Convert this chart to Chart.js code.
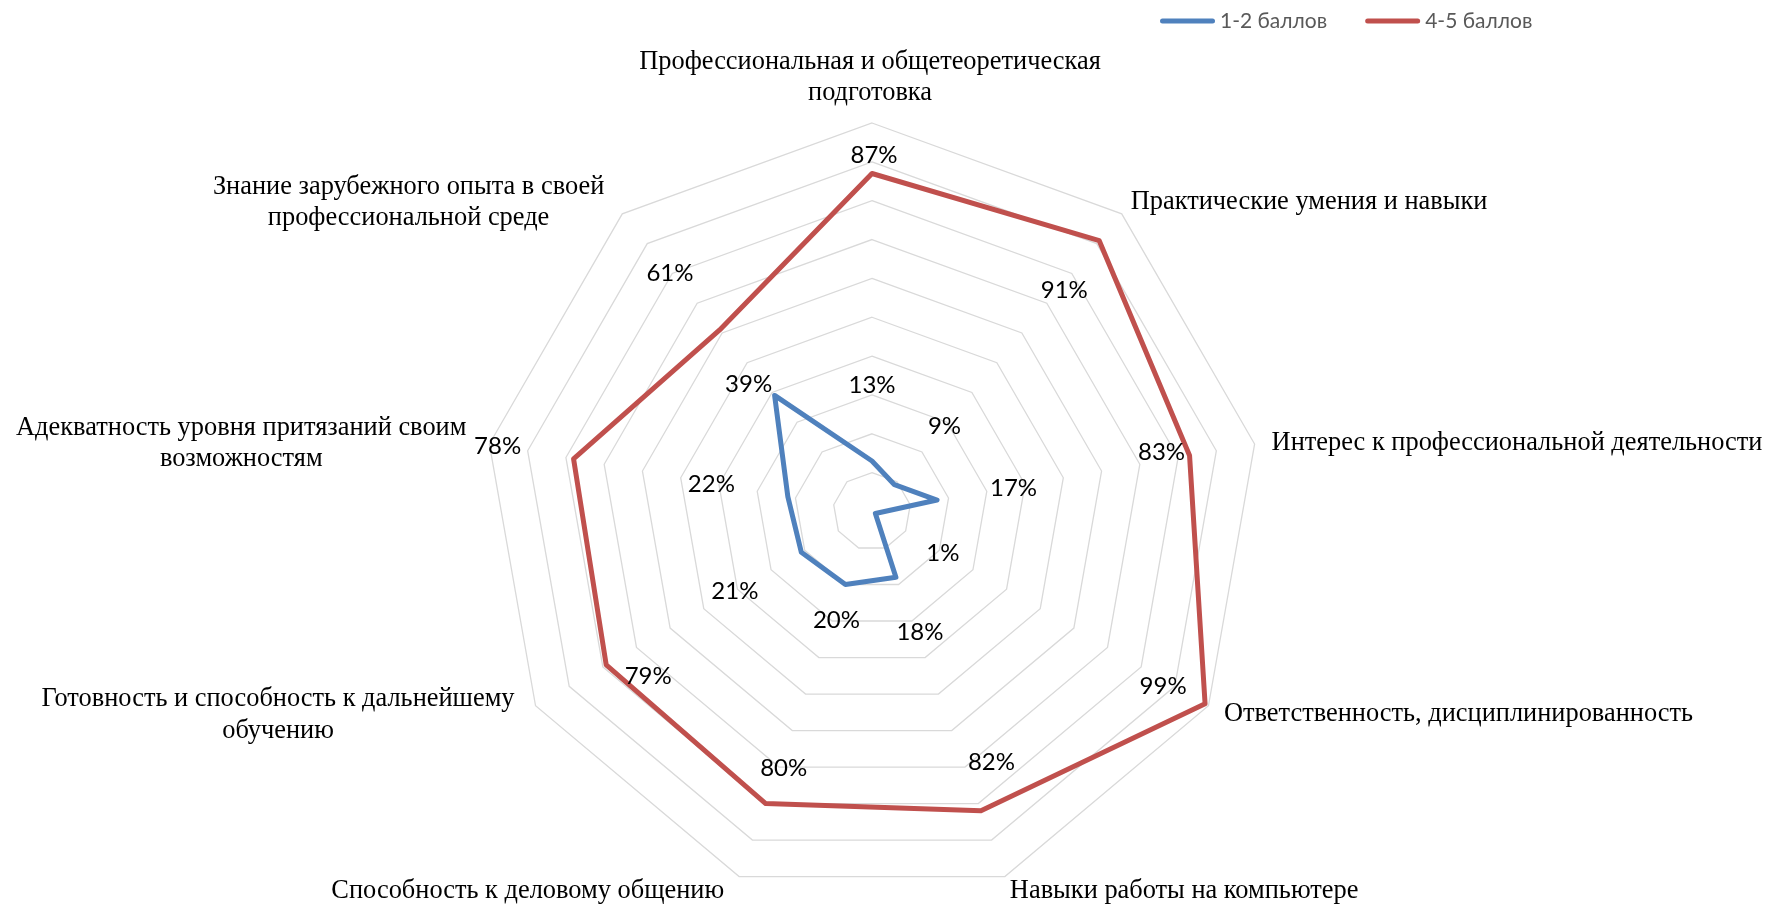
<!DOCTYPE html>
<html><head><meta charset="utf-8">
<script src="https://cdn.jsdelivr.net/npm/chart.js@4.4.1/dist/chart.umd.min.js"></script>
<style>html,body{margin:0;padding:0;background:#fff;overflow:hidden}#wrap{width:1769px;height:906px;position:relative}</style>
</head><body><div id="wrap"><canvas id="c" width="1769" height="906"></canvas></div>
<script>
// ---- data ----
const categories = [
  ['Профессиональная и общетеоретическая', 'подготовка'],
  ['Практические умения и навыки'],
  ['Интерес к профессиональной деятельности'],
  ['Ответственность, дисциплинированность'],
  ['Навыки работы на компьютере'],
  ['Способность к деловому общению'],
  ['Готовность и способность к дальнейшему', 'обучению'],
  ['Адекватность уровня притязаний своим', 'возможностям'],
  ['Знание зарубежного опыта в своей', 'профессиональной среде']
];
const seriesNames = ['1-2 баллов', '4-5 баллов'];
const lowScores = [13, 9, 17, 1, 18, 20, 21, 22, 39];
const highScores = [87, 91, 83, 99, 82, 80, 79, 78, 61];
const tickMin = 0, tickMax = 100, tickStep = 10;

// ---- styling / label placement ----
const colors = ['#4F81BD', '#C0504D'];
const catFont = '26.4px "Liberation Serif"';
const catLineHeight = 31.5;
const pointLabelPlacement = [
  {align: 'center', dx: -2, dy: -61},
  {align: 'left', dx: 9, dy: -12},
  {align: 'left', dx: 17, dy: -1},
  {align: 'left', dx: 15.5, dy: 8},
  {align: 'left', dx: 5, dy: 14.5},
  {align: 'right', dx: -15, dy: 14.5},
  {align: 'blockRight', dx: -21, dy: -6.5},
  {align: 'blockRight', dx: -23, dy: -16},
  {align: 'blockRight', dx: -18, dy: -27}
];
const dataLabelOffsets = [
  [[0,-76],[50,-58.5],[76.5,-12],[67.5,40],[24,55.3],[-9,36],[-66.5,39],[-76.5,-12.5],[-26,-11.5]],
  [[2,-18],[-35,50],[-28,-3],[-42,-17.5],[10.5,-49],[18,-35.5],[42,11.5],[-76,-12.2],[-49.7,-57]]
];

const labelPlugin = {
  id: 'customLabels',
  afterDatasetsDraw(chart) {
    const s = chart.scales.r, ctx = chart.ctx;
    ctx.save();
    ctx.font = catFont; ctx.fillStyle = '#000'; ctx.textBaseline = 'middle';
    categories.forEach((lines, i) => {
      const p = s.getPointPositionForValue(i, tickMax);
      const pl = pointLabelPlacement[i];
      let x = p.x + pl.dx, y = p.y + pl.dy, align = pl.align;
      if (align === 'blockRight') {
        const w = Math.max(...lines.map(t => ctx.measureText(t).width));
        x -= w / 2; align = 'center';
      }
      ctx.textAlign = align;
      lines.forEach((t, k) => ctx.fillText(t, x, y + k * catLineHeight));
    });
    ctx.font = '24px Lato'; ctx.textAlign = 'center'; ctx.fillStyle = '#000';
    chart.data.datasets.forEach((ds, d) => {
      const meta = chart.getDatasetMeta(d);
      meta.data.forEach((el, i) => {
        const o = dataLabelOffsets[d][i];
        ctx.fillText(ds.data[i] + '%', el.x + o[0], el.y + o[1]);
      });
    });
    ctx.restore();
  }
};

const legendPlugin = {
  id: 'customLegend',
  afterDraw(chart) {
    const ctx = chart.ctx;
    ctx.save();
    ctx.font = '21px Lato'; ctx.textBaseline = 'middle'; ctx.textAlign = 'left';
    let x = 1160; const y = 21;
    chart.data.datasets.forEach((ds, d) => {
      ctx.strokeStyle = ds.borderColor; ctx.lineWidth = 5; ctx.lineCap = 'round';
      ctx.beginPath(); ctx.moveTo(x + 2.5, y); ctx.lineTo(x + 52.5, y); ctx.stroke();
      ctx.fillStyle = '#595959';
      ctx.fillText(ds.label, x + 60, y);
      x += 60 + ctx.measureText(ds.label).width + 38;
    });
    ctx.restore();
  }
};

new Chart(document.getElementById('c'), {
  type: 'radar',
  data: {
    labels: categories,
    datasets: [
      {label: seriesNames[0], data: lowScores, borderColor: colors[0], backgroundColor: colors[0]},
      {label: seriesNames[1], data: highScores, borderColor: colors[1], backgroundColor: colors[1]}
    ]
  },
  options: {
    responsive: false, animation: false, devicePixelRatio: 1,
    layout: {padding: {top: 123, bottom: 6, left: 0, right: 25}},
    elements: {
      line: {borderWidth: 5, tension: 0, fill: false, borderJoinStyle: 'round', borderCapStyle: 'round'},
      point: {radius: 0, hoverRadius: 0}
    },
    plugins: {legend: {display: false}, tooltip: {enabled: false}},
    scales: {
      r: {
        min: tickMin, max: tickMax,
        ticks: {stepSize: tickStep, display: false},
        grid: {color: '#D9D9D9', lineWidth: 1.3},
        angleLines: {display: false},
        pointLabels: {display: false},
        afterFit(s) {
          s.xCenter = s.left + s.width / 2;
          s.yCenter = s.top + s.height / 2;
          s.drawingArea = Math.min(s.width, s.height) / 2;
        }
      }
    }
  },
  plugins: [labelPlugin, legendPlugin]
});
</script></body></html>
